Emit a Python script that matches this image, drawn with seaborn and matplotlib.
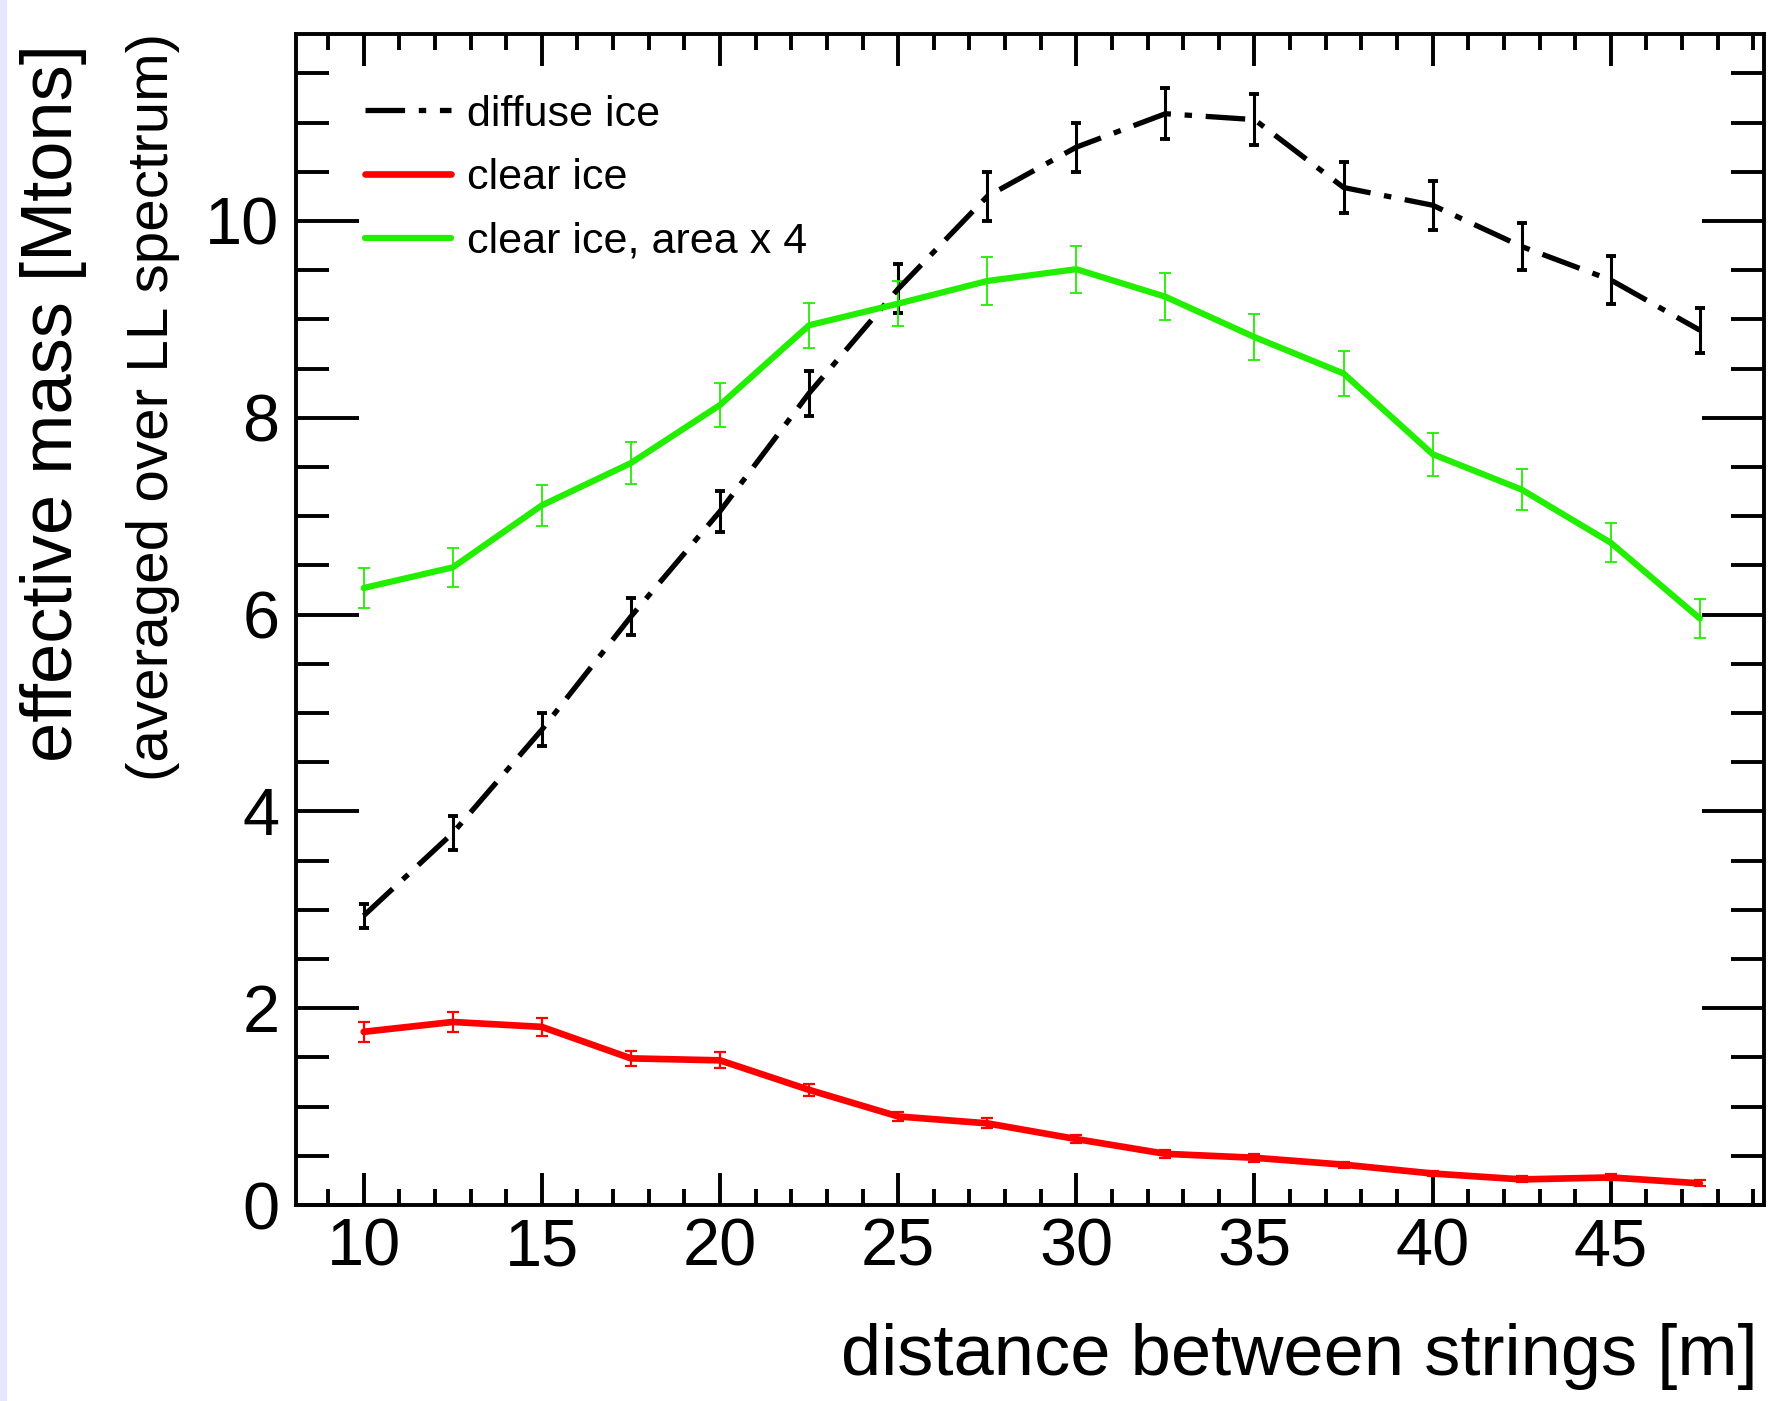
import numpy as np
import pandas as pd
import matplotlib
matplotlib.use('Agg')
import matplotlib.pyplot as plt
import seaborn as sns
from matplotlib.ticker import MultipleLocator
from matplotlib.patches import Rectangle

# Data
distance = [10, 12.5, 15, 17.5, 20, 22.5, 25, 27.5, 30, 32.5, 35, 37.5, 40, 42.5, 45, 47.5]

diffuse_ice = [2.94, 3.78, 4.83, 5.98, 7.05, 8.25, 9.31, 10.25, 10.75, 11.09, 11.03, 10.34, 10.16, 9.74, 9.40, 8.89]
diffuse_err = [0.12, 0.17, 0.17, 0.19, 0.21, 0.23, 0.25, 0.25, 0.25, 0.26, 0.26, 0.26, 0.25, 0.24, 0.24, 0.23]

clear_ice = [1.76, 1.86, 1.81, 1.49, 1.47, 1.17, 0.90, 0.83, 0.67, 0.52, 0.48, 0.41, 0.32, 0.26, 0.28, 0.22]
clear_err = [0.10, 0.10, 0.09, 0.08, 0.08, 0.06, 0.05, 0.05, 0.04, 0.04, 0.04, 0.03, 0.03, 0.03, 0.03, 0.03]

clear_x4 = [6.27, 6.48, 7.11, 7.54, 8.13, 8.94, 9.16, 9.39, 9.51, 9.23, 8.82, 8.45, 7.63, 7.27, 6.73, 5.96]
clear_x4_err = [0.20, 0.20, 0.21, 0.21, 0.22, 0.23, 0.23, 0.24, 0.24, 0.24, 0.23, 0.23, 0.22, 0.21, 0.20, 0.20]

labels = ['diffuse ice', 'clear ice', 'clear ice, area x 4']

df = pd.DataFrame({'distance': distance,
                   'diffuse': diffuse_ice, 'clear': clear_ice, 'clear4': clear_x4})

sns.set_theme(style='ticks')
plt.rcParams['font.family'] = ['Liberation Sans', 'DejaVu Sans']
plt.rcParams['text.color'] = 'black'
plt.rcParams['xtick.labelcolor'] = 'black'
plt.rcParams['ytick.labelcolor'] = 'black'

fig = plt.figure(figsize=(17.73, 14.01), dpi=100)
ax = fig.add_axes([296 / 1773, 1 - 1205 / 1401, (1764 - 296) / 1773, (1205 - 34) / 1401])

# lavender slide edge on the left
fig.patches.append(Rectangle((0, 0), 6 / 1773, 1, transform=fig.transFigure,
                             color='#e6e6ff', zorder=0))

# error bars
ax.errorbar(distance, diffuse_ice, yerr=diffuse_err, fmt='none', ecolor='black',
            elinewidth=2.2, capsize=3.6, capthick=2.8, zorder=3)
ax.errorbar(distance, clear_ice, yerr=clear_err, fmt='none', ecolor='#ff0000',
            elinewidth=1.6, capsize=4, capthick=1.6, zorder=3)
ax.errorbar(distance, clear_x4, yerr=clear_x4_err, fmt='none', ecolor='#22ee00',
            elinewidth=1.3, capsize=4, capthick=1.3, zorder=3)

# lines
sns.lineplot(data=df, x='distance', y='diffuse', ax=ax, color='black', linewidth=3.8,
             linestyle=(0, (7.5, 2.6, 1.4, 2.6)), label=labels[0], zorder=4)
sns.lineplot(data=df, x='distance', y='clear', ax=ax, color='#ff0000', linewidth=4.8,
             label=labels[1], zorder=4)
sns.lineplot(data=df, x='distance', y='clear4', ax=ax, color='#22ee00', linewidth=4.5,
             label=labels[2], zorder=4)

ax.set_xlim(8.1, 49.3)
ax.set_ylim(0, 11.9)

ax.xaxis.set_major_locator(MultipleLocator(5))
ax.xaxis.set_minor_locator(MultipleLocator(1))
ax.yaxis.set_major_locator(MultipleLocator(2))
ax.yaxis.set_minor_locator(MultipleLocator(0.5))

ax.tick_params(axis='both', which='both', direction='in', top=True, right=True,
               width=2.8, color='black', labelcolor='black')
ax.tick_params(axis='x', which='major', length=23, labelsize=48, pad=9)
ax.tick_params(axis='x', which='minor', length=11.5)
ax.tick_params(axis='y', which='major', length=45, labelsize=48, pad=12)
ax.tick_params(axis='y', which='minor', length=24)
for sp in ax.spines.values():
    sp.set_linewidth(2.8)
    sp.set_color('black')

ax.set_xlabel('')
ax.set_ylabel('')

fig.text(1758 / 1773, 1 - 1357 / 1401, 'distance between strings [m]', fontsize=52,
         ha='right', va='center', color='black')
fig.text(54 / 1773, 1 - 403 / 1401, 'effective mass [Mtons]', fontsize=52,
         rotation=90, ha='center', va='center', color='black')
fig.text(153 / 1773, 1 - 407 / 1401, '(averaged over LL spectrum)', fontsize=42,
         rotation=90, ha='center', va='center', color='black')

leg = ax.legend(loc='upper left', bbox_to_anchor=(0.035, 0.963), frameon=False,
                fontsize=31, handlelength=2.0, handletextpad=0.38, labelspacing=0.55,
                borderaxespad=0)
for t in leg.get_texts():
    t.set_color('black')

fig.savefig('out.png', dpi=100)
